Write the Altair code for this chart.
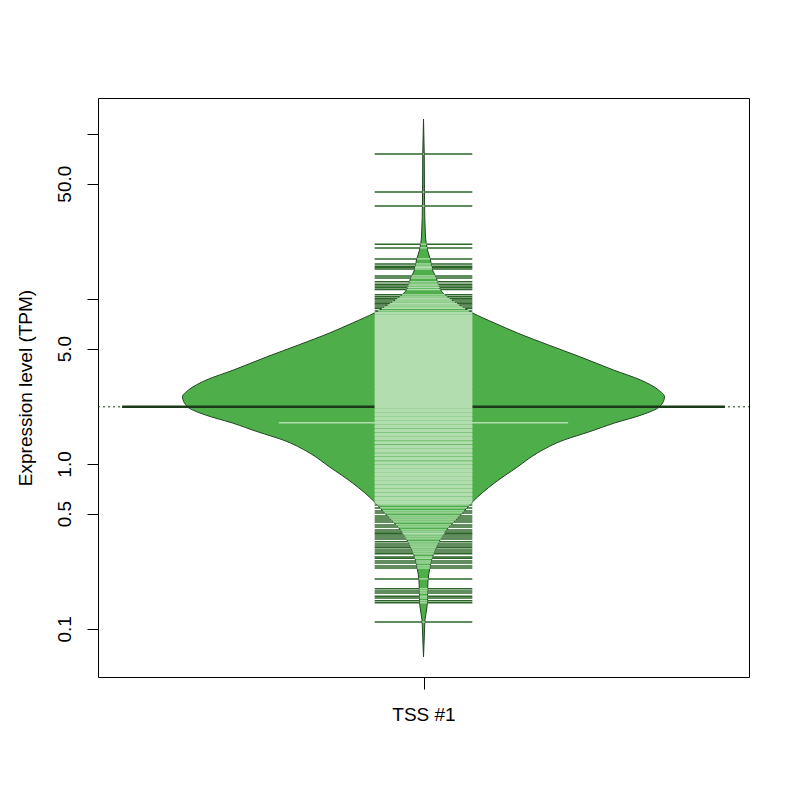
import altair as alt
import numpy as np
import pandas as pd

# ---- values ----
group_label = "TSS #1"
y_ticks = [0.1, 0.5, 1.0, 5.0, 10.0, 50.0, 100.0]

# bean (density) outline: expression level (TPM) and half width of the bean
profile_tpm = [0.0677, 0.080, 0.0986, 0.1134, 0.136, 0.156, 0.198, 0.228, 0.262, 0.314,
               0.398, 0.505, 0.589, 0.767, 0.959, 1.166, 1.40, 1.56, 1.77, 1.98,
               2.22, 2.55, 2.81, 3.23, 3.71, 4.45, 5.26, 6.22, 7.15, 8.23,
               9.19, 10.28, 11.34, 13.59, 14.99, 17.23, 19.82, 23.76, 39.8, 76.7, 123.3]
profile_half = [0.0, 0.0008, 0.0017, 0.0025, 0.0058, 0.0066, 0.0075, 0.0100, 0.0133, 0.0216,
                0.0382, 0.0647, 0.0813, 0.1178, 0.1559, 0.1891, 0.2339, 0.2737, 0.3169, 0.3616,
                0.3915, 0.3998, 0.3898, 0.3600, 0.3152, 0.2605, 0.2074, 0.1559, 0.1178, 0.0813,
                0.0597, 0.0398, 0.0282, 0.0207, 0.0149, 0.0116, 0.0066, 0.0033, 0.0017, 0.0012, 0.0]

# individual observations in the tails (bean lines that can be told apart)
tail_values = [75.6, 44.5, 36.6, 21.5, 20.4, 17.5, 16.3, 15.8, 15.5, 15.2,
               13.8, 13.4, 12.7, 12.3, 12.0, 11.7, 11.4, 10.6, 10.3, 10.07,
               9.86, 9.59, 9.39, 9.19, 8.94, 8.76, 8.46,
               0.564, 0.541, 0.519, 0.505, 0.484, 0.471, 0.458, 0.445, 0.427,
               0.415, 0.398, 0.387, 0.379, 0.371, 0.361, 0.351, 0.337, 0.327,
               0.318, 0.310, 0.301, 0.293, 0.285, 0.273, 0.268, 0.258, 0.251,
               0.241, 0.234, 0.201, 0.175, 0.170, 0.165, 0.158, 0.154, 0.148,
               0.144, 0.110]

# densely packed observations in the body of the bean
core_values = [8.20, 7.90, 7.66, 7.46, 7.23, 7.05, 6.84, 6.67, 6.47, 6.31,
               6.12, 5.97, 5.79, 5.65, 5.47, 5.34, 5.17, 5.05, 4.89, 4.78,
               4.63, 4.52, 4.37, 4.27, 4.14, 4.04, 3.91, 3.82, 3.70, 3.62,
               3.50, 3.42, 3.31, 3.24, 3.13, 3.06, 2.96, 2.90, 2.80, 2.74,
               2.65, 2.59, 2.50, 2.45, 2.37, 2.32, 2.24, 2.20, 2.12, 2.08,
               2.00, 1.97, 1.89, 1.86, 1.79, 1.76, 1.69, 1.67, 1.60, 1.58,
               1.51, 1.49, 1.43, 1.41, 1.35, 1.34, 1.28, 1.26, 1.21, 1.19,
               1.14, 1.13, 1.08, 1.07, 1.02, 1.01, 0.970, 0.952, 0.917, 0.901,
               0.868, 0.852, 0.821, 0.806, 0.777, 0.763, 0.735, 0.722, 0.695, 0.683,
               0.657, 0.646, 0.622, 0.611, 0.592, 0.580]

mean_tpm = 2.22
median_tpm = 1.78

# ---- styling / geometry constants ----
CENTER = 1.0
RUG_HALF = 0.081       # half length of each bean line
MEAN_HALF = 0.5        # half length of the average line
MED_HALF = 0.24
X_DOMAIN = [0.46, 1.54]
Y_DOMAIN = [0.0511, 165.3]

FILL = "#4dae4a"
LIGHT = "#b2ddae"
DARK_LINE = "#2c6629"
OUTLINE = "#234422"
MEAN_COL = "#1b3a19"
FONT = "Liberation Sans"
FS = 19


def inside_half(vals):
    h = np.interp(np.log10(vals), np.log10(profile_tpm), profile_half)
    return np.minimum(h, RUG_HALF)


bean_df = pd.DataFrame({"tpm": profile_tpm, "half": profile_half})
bean_df["lo"] = CENTER - bean_df["half"]
bean_df["hi"] = CENTER + bean_df["half"]

all_values = tail_values + core_values
dark_df = pd.DataFrame({"tpm": all_values})
dark_df["lo"] = CENTER - RUG_HALF
dark_df["hi"] = CENTER + RUG_HALF

tail_df = pd.DataFrame({"tpm": tail_values})
tail_df["lo"] = CENTER - inside_half(tail_df["tpm"].values)
tail_df["hi"] = CENTER + inside_half(tail_df["tpm"].values)

core_df = pd.DataFrame({"tpm": core_values})
core_df["lo"] = CENTER - inside_half(core_df["tpm"].values)
core_df["hi"] = CENTER + inside_half(core_df["tpm"].values)

overall_df = pd.DataFrame({"tpm": [mean_tpm], "lo": [X_DOMAIN[0]], "hi": [X_DOMAIN[1]]})
mean_df = pd.DataFrame({"tpm": [mean_tpm], "lo": [CENTER - MEAN_HALF], "hi": [CENTER + MEAN_HALF]})
med_df = pd.DataFrame({"tpm": [median_tpm], "lo": [CENTER - MED_HALF], "hi": [CENTER + MED_HALF]})

x_scale = alt.Scale(domain=X_DOMAIN, nice=False, zero=False)
y_scale = alt.Scale(type="log", domain=Y_DOMAIN, nice=False)

x_axis = alt.Axis(values=[CENTER], labelExpr=f"'{group_label}'", grid=False, domain=False,
                  tickSize=12, tickColor="black", labelPadding=31, labelBaseline="alphabetic",
                  labelFont=FONT, labelFontSize=FS, labelColor="black", title="")
y_axis = alt.Axis(values=y_ticks,
                  labelExpr="datum.value == 10 || datum.value == 100 ? '' : format(datum.value, '.1f')",
                  grid=False, domain=False, tickSize=11, tickColor="black",
                  labelAngle=270, labelAlign="center", labelBaseline="alphabetic",
                  labelPadding=17, labelFont=FONT, labelFontSize=FS, labelColor="black",
                  labelOverlap=False, labelFlush=False,
                  title="Expression level (TPM)", titleFont=FONT, titleFontSize=FS,
                  titleFontWeight="normal", titleColor="black", titleAngle=270,
                  titleAlign="center", titleBaseline="alphabetic", titleX=-67, titleY=289.5)


def enc(chart):
    return chart.encode(
        x=alt.X("lo:Q", scale=x_scale, axis=x_axis),
        x2="hi:Q",
        y=alt.Y("tpm:Q", scale=y_scale, axis=y_axis),
    )


dark_rules = enc(alt.Chart(dark_df).mark_rule(color=DARK_LINE, strokeWidth=1.5))
overall = enc(alt.Chart(overall_df).mark_rule(color=MEAN_COL, strokeWidth=1, strokeDash=[2, 3]))
bean = enc(alt.Chart(bean_df).mark_area(orient="horizontal", color=FILL, fillOpacity=1,
                                        stroke=OUTLINE, strokeWidth=1, interpolate="monotone"))
mean_line = enc(alt.Chart(mean_df).mark_rule(color=MEAN_COL, strokeWidth=2.5))
med_line = enc(alt.Chart(med_df).mark_rule(color=LIGHT, strokeWidth=1.5))
light_tails = enc(alt.Chart(tail_df).mark_rule(color=LIGHT, strokeWidth=1.3))
light_core = enc(alt.Chart(core_df).mark_rule(color=LIGHT, strokeWidth=2.6))

chart = alt.layer(
    dark_rules, overall, bean, mean_line, med_line, light_tails, light_core
).properties(
    width=651, height=579,
    autosize=alt.AutoSizeParams(type="none"),
    padding={"left": 90, "top": 90, "right": 43, "bottom": 100},
).configure(
    background="white"
).configure_view(
    stroke="black", strokeWidth=1
)

chart.save("out.html", embed_options={"renderer": "svg", "actions": False})
